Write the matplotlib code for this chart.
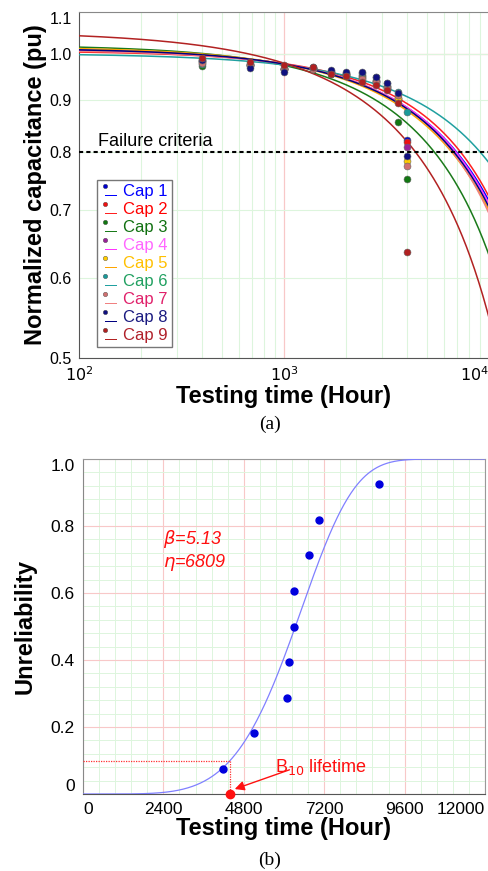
import numpy as np
import matplotlib
matplotlib.use("Agg")
import matplotlib.pyplot as plt
from matplotlib.path import Path
from matplotlib.lines import Line2D
from matplotlib.legend_handler import HandlerTuple
from matplotlib.ticker import FixedLocator, NullFormatter

plt.rcParams['font.family'] = ['Liberation Sans', 'DejaVu Sans']

# ---- (a) capacitance degradation data ----
test_hours = [400, 680, 1000, 1380, 1690, 2000, 2400, 2810, 3180, 3600, 3980]
cap_names = ['Cap 1', 'Cap 2', 'Cap 3', 'Cap 4', 'Cap 5', 'Cap 6', 'Cap 7', 'Cap 8', 'Cap 9']
cap1 = [0.985, 0.975, 0.965, 0.967, 0.958, 0.955, 0.952, 0.942, 0.930, 0.905, 0.822]
cap2 = [0.982, 0.978, 0.968, 0.968, 0.960, 0.956, 0.950, 0.940, 0.928, 0.900, 0.818]
cap3 = [0.973, 0.972, 0.966, 0.966, 0.955, 0.950, 0.940, 0.933, 0.922, 0.856, 0.752]
cap4 = [0.984, 0.976, 0.967, 0.968, 0.958, 0.954, 0.948, 0.940, 0.929, 0.902, 0.808]
cap5 = [0.983, 0.975, 0.966, 0.967, 0.957, 0.953, 0.946, 0.938, 0.926, 0.905, 0.783]
cap6 = [0.978, 0.974, 0.967, 0.969, 0.962, 0.958, 0.958, 0.948, 0.935, 0.917, 0.876]
cap7 = [0.980, 0.974, 0.966, 0.967, 0.957, 0.952, 0.945, 0.937, 0.925, 0.910, 0.774]
cap8 = [0.987, 0.968, 0.960, 0.970, 0.963, 0.960, 0.960, 0.949, 0.936, 0.914, 0.792]
cap9 = [0.991, 0.982, 0.975, 0.971, 0.956, 0.950, 0.938, 0.932, 0.921, 0.895, 0.636]
cap_values = [cap1, cap2, cap3, cap4, cap5, cap6, cap7, cap8, cap9]

# fitted degradation curves, read at 100 h, 1000 h and 10000 h
fit_100 = [1.009, 1.004, 1.0154, 1.007, 1.012, 0.998, 1.006, 1.009, 1.042]
fit_1000 = [0.977, 0.978, 0.974, 0.977, 0.977, 0.975, 0.977, 0.977, 0.979]
fit_10000 = [0.715, 0.722, 0.632, 0.71, 0.70, 0.78, 0.695, 0.705, 0.548]

line_colors = ['#0000FF', '#FF2020', '#1A7A1A', '#FF33FF', '#FFA500', '#20A0A0', '#F08080', '#000080', '#B22222']
dot_colors = ['#0000CC', '#EE1111', '#117711', '#992299', '#FFCC00', '#1A9A9A', '#D07070', '#101080', '#B02020']
text_colors = ['#0000FF', '#FF0000', '#107010', '#FF66FF', '#FFC000', '#20A060', '#E0206A', '#1A1A80', '#B0202A']

# ---- (b) Weibull unreliability ----
fail_hours = [4170, 5090, 6080, 6150, 6300, 6310, 6760, 7030, 8830]
unreliab = [0.0745, 0.181, 0.287, 0.394, 0.5, 0.606, 0.713, 0.819, 0.926]
beta = 5.13
eta = 6809

GREEN = '#DDF5DD'
PINK = '#F8C8C8'

fig = plt.figure(figsize=(4.89, 8.71), dpi=100)

# ================= (a) =================
ax = fig.add_axes([79 / 489, 1 - 358 / 871, 410 / 489, 346 / 871])
ax.set_xscale('log')
ax.set_yscale('log')
ax.set_xlim(100, 10000)
ax.set_ylim(0.5, 1.1)

t = np.logspace(2, 4, 400)
for i in range(9):
    p, q, r = fit_100[i], fit_1000[i], fit_10000[i]
    u = (q - r) / (p - q)
    n = np.log10(u)
    b = (p - q) / (u ** 3 - u ** 2)
    a = p + b * u ** 2
    ax.plot(t, a - b * t ** n, color=line_colors[i], lw=1.1, zorder=3)

for i in range(9):
    ax.plot(test_hours, cap_values[i], 'o', ms=5, mfc=dot_colors[i], mec='#666666', mew=0.4, zorder=4)

ax.axhline(0.8, color='black', ls=(0, (2, 1.5)), lw=1.5, zorder=5)
ax.text(124, 0.8105, 'Failure criteria', fontsize=13, va='baseline', ha='left', zorder=6)

yt = [0.5, 0.6, 0.7, 0.8, 0.9, 1.0, 1.1]
ax.yaxis.set_major_locator(FixedLocator(yt))
ax.yaxis.set_minor_locator(FixedLocator([]))
ax.yaxis.set_minor_formatter(NullFormatter())
ax.set_yticklabels(['0.5', '0.6', '0.7', '0.8', '0.9', '1.0', '1.1'])
ax.get_yticklabels()[-1].set_va('top')
ax.xaxis.set_major_locator(FixedLocator([100, 1000, 10000]))
ax.xaxis.set_minor_locator(FixedLocator([k * 10 ** e for e in (2, 3) for k in range(2, 10)]))
ax.xaxis.set_minor_formatter(NullFormatter())
ax.set_xticklabels([r'$10^2$', r'$10^3$', r'$10^4$'])
ax.get_xticklabels()[-1].set_ha('right')
ax.tick_params(which='both', length=0, labelsize=11.5, pad=5)

ax.grid(True, which='minor', axis='x', color=GREEN, lw=0.8)
ax.grid(True, which='major', axis='y', color=GREEN, lw=0.8)
ax.axvline(1000, color=PINK, lw=0.9, zorder=0.5)
ax.axhline(1.0, color=PINK, lw=0.9, zorder=0.5)
ax.set_axisbelow(True)
for s in ['left', 'bottom']:
    ax.spines[s].set_color('#555555')
ax.spines['top'].set_color('#888888')
ax.spines['right'].set_visible(False)

ax.set_xlabel('Testing time (Hour)', fontsize=17, fontweight='bold', labelpad=1)
ax.set_ylabel('Normalized capacitance (pu)', fontsize=17, fontweight='bold', labelpad=2)

# legend: dot above a short line
dot_path = Path.circle(center=(0, 0.55), radius=0.3)
bar_path = Path([(-0.9, -0.85), (0.9, -0.85), (0.9, -1.0), (-0.9, -1.0), (-0.9, -0.85)],
                [Path.MOVETO, Path.LINETO, Path.LINETO, Path.LINETO, Path.CLOSEPOLY])
handles = []
for i in range(9):
    d = Line2D([], [], ls='', marker=dot_path, ms=9, mfc=dot_colors[i], mec='#444444', mew=0.3)
    l = Line2D([], [], ls='', marker=bar_path, ms=9, mfc=line_colors[i], mec=line_colors[i], mew=0)
    handles.append((d, l))
leg = ax.legend(handles, cap_names, handler_map={tuple: HandlerTuple(ndivide=None, pad=0)},
                loc='upper left', bbox_to_anchor=(0.044, 0.514), borderaxespad=0,
                fontsize=12, fancybox=False, edgecolor='#777777', framealpha=1,
                handlelength=0.8, handletextpad=0.5, labelspacing=0.18, borderpad=0.25)
leg.get_frame().set_linewidth(1.0)
for txt, c in zip(leg.get_texts(), text_colors):
    txt.set_color(c)
leg.set_zorder(10)

fig.text(270 / 489, 1 - 424 / 871, '(a)', ha='center', va='center', fontsize=14, family='Liberation Serif')

# ================= (b) =================
bx = fig.add_axes([83 / 489, 1 - 794 / 871, 402 / 489, 335 / 871])
bx.set_xlim(0, 12000)
bx.set_ylim(0, 1.0)

tt = np.linspace(0, 12000, 600)
bx.plot(tt, 1 - np.exp(-(tt / eta) ** beta), color='#8080FF', lw=0.9, zorder=3)
bx.plot(fail_hours, unreliab, 'o', ms=5, color='#0000DD', zorder=4)

b10 = eta * (-np.log(0.9)) ** (1 / beta)
bx.plot([0, b10], [0.1, 0.1], color='#FF3030', ls=(0, (1, 1)), lw=0.9, zorder=3)
bx.plot([b10, b10], [0.1, 0], color='#FF3030', ls=(0, (1, 1)), lw=0.9, zorder=3)
bx.plot([b10], [0], 'o', ms=6, color='#FF1010', clip_on=False, zorder=6)
bx.annotate('', xy=(b10 + 60, 0.012), xytext=(b10 + 1850, 0.075),
            arrowprops=dict(arrowstyle='-|>', color='#FF1010', lw=1.0, mutation_scale=14), zorder=6)
bx.text(5720, 0.082, r'B$_{10}$ lifetime', color='#FF1010', fontsize=13, ha='left', va='center')

bx.text(2400, 0.76, r'$\beta$=5.13', color='#FF1010', fontsize=13, style='italic', ha='left', va='center')
bx.text(2400, 0.69, r'$\eta$=6809', color='#FF1010', fontsize=13, style='italic', ha='left', va='center')

bx.set_xticks([0, 2400, 4800, 7200, 9600, 12000])
bx.set_xticklabels(['0', '2400', '4800', '7200', '9600', '12000'])
bx.set_xticks(np.arange(0, 12001, 480), minor=True)
bx.set_yticks([0, 0.2, 0.4, 0.6, 0.8, 1.0])
bx.set_yticklabels(['0', '0.2', '0.4', '0.6', '0.8', '1.0'])
bx.set_yticks(np.arange(0, 1.001, 0.04), minor=True)
bx.get_yticklabels()[0].set_va('bottom')
bx.get_yticklabels()[-1].set_va('top')
bx.get_xticklabels()[0].set_ha('left')
bx.get_xticklabels()[-1].set_ha('right')
bx.tick_params(which='both', length=0, labelsize=12.5, pad=6)
bx.grid(True, which='minor', color=GREEN, lw=0.7)
bx.grid(True, which='major', color=PINK, lw=0.8)
bx.set_axisbelow(True)
bx.spines['left'].set_color('#888888')
bx.spines['bottom'].set_color('#555555')
bx.spines['top'].set_color('#999999')
bx.spines['right'].set_color('#999999')

bx.set_xlabel('Testing time (Hour)', fontsize=17, fontweight='bold', labelpad=0)
bx.set_ylabel('Unreliability', fontsize=17, fontweight='bold', labelpad=10)

fig.text(270 / 489, 1 - 860 / 871, '(b)', ha='center', va='center', fontsize=14, family='Liberation Serif')

fig.savefig('out.png', dpi=100)
